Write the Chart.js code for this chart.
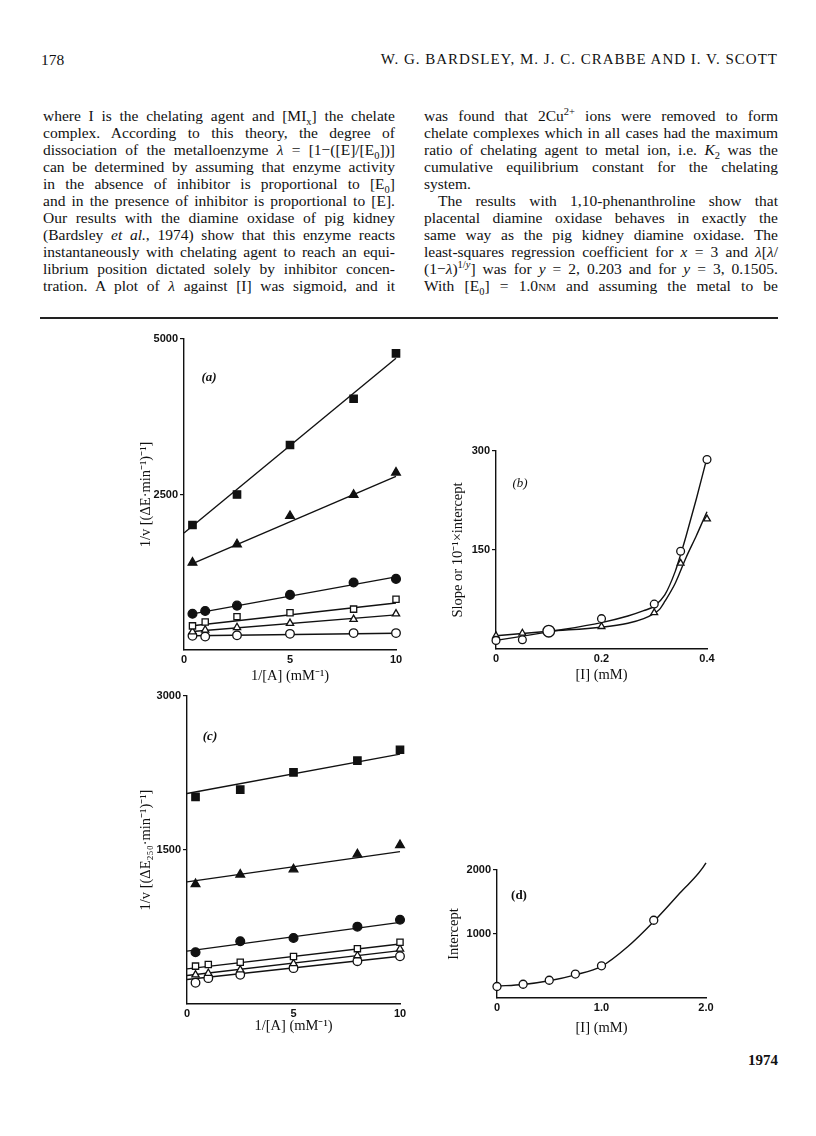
<!DOCTYPE html>
<html>
<head>
<meta charset="utf-8">
<script src="https://cdn.jsdelivr.net/npm/chart.js@4.4.0/dist/chart.umd.min.js"></script>
<style>
  body { margin: 0; width: 816px; height: 1136px; position: relative; overflow: hidden; background: #fff; color: #111; font-family: 'Liberation Serif', 'DejaVu Serif', serif; }
  .abs { position: absolute; }
  .col { position: absolute; top: 107px; font-size: 15.5px; line-height: 17px; word-spacing: -1.5px; }
  .ln { white-space: nowrap; text-align: justify; text-align-last: justify; height: 17px; }
  .ll { white-space: nowrap; text-align: left; height: 17px; }
  .ind { padding-left: 14px; }
  sub, sup { font-size: 10.5px; line-height: 0; }
  .sc { font-variant: small-caps; }
  canvas { position: absolute; }
  .tag { position: absolute; font-size: 13px; font-style: italic; font-weight: bold; transform: translate(-50%, -50%); }
</style>
</head>
<body>

<div class="abs" style="left:41px;top:51px;font-size:15.5px;">178</div>
<div class="abs" style="right:38px;top:51px;font-size:15px;letter-spacing:1px;">W. G. BARDSLEY, M. J. C. CRABBE AND I. V. SCOTT</div>

<div class="col" style="left:43px;width:352px;">
  <div class="ln">where I is the chelating agent and [MI<sub>x</sub>] the chelate</div>
  <div class="ln">complex. According to this theory, the degree of</div>
  <div class="ln">dissociation of the metalloenzyme <i>λ</i> = [1−([E]/[E<sub>0</sub>])]</div>
  <div class="ln">can be determined by assuming that enzyme activity</div>
  <div class="ln">in the absence of inhibitor is proportional to [E<sub>0</sub>]</div>
  <div class="ln">and in the presence of inhibitor is proportional to [E].</div>
  <div class="ln">Our results with the diamine oxidase of pig kidney</div>
  <div class="ln">(Bardsley <i>et al.</i>, 1974) show that this enzyme reacts</div>
  <div class="ln">instantaneously with chelating agent to reach an equi-</div>
  <div class="ln">librium position dictated solely by inhibitor concen-</div>
  <div class="ln">tration. A plot of <i>λ</i> against [I] was sigmoid, and it</div>
</div>

<div class="col" style="left:424px;width:354px;">
  <div class="ln">was found that 2Cu<sup>2+</sup> ions were removed to form</div>
  <div class="ln">chelate complexes which in all cases had the maximum</div>
  <div class="ln">ratio of chelating agent to metal ion, i.e. <i>K</i><sub>2</sub> was the</div>
  <div class="ln">cumulative equilibrium constant for the chelating</div>
  <div class="ll">system.</div>
  <div class="ln ind">The results with 1,10-phenanthroline show that</div>
  <div class="ln">placental diamine oxidase behaves in exactly the</div>
  <div class="ln">same way as the pig kidney diamine oxidase. The</div>
  <div class="ln">least-squares regression coefficient for <i>x</i> = 3 and <i>λ</i>[<i>λ</i>/</div>
  <div class="ln">(1−<i>λ</i>)<sup>1/<i>y</i></sup>] was for <i>y</i> = 2, 0.203 and for <i>y</i> = 3, 0.1505.</div>
  <div class="ln">With [E<sub>0</sub>] = 1.0<span class="sc">nm</span> and assuming the metal to be</div>
</div>

<div class="abs" style="left:40px;top:317px;width:738px;height:2px;background:#222;"></div>

<canvas id="chartA" width="277" height="360" style="left:133px;top:329px;"></canvas>
<canvas id="chartB" width="274" height="247" style="left:445px;top:441px;"></canvas>
<canvas id="chartC" width="281" height="353" style="left:133px;top:686px;"></canvas>
<canvas id="chartD" width="279" height="185" style="left:441px;top:856px;"></canvas>

<div class="tag" style="left:209px;top:377px;">(a)</div>
<div class="tag" style="left:520px;top:483px;font-weight:normal;">(b)</div>
<div class="tag" style="left:210px;top:736px;">(c)</div>
<div class="tag" style="left:519px;top:895px;font-style:normal;">(d)</div>

<div class="abs" style="left:748px;top:1052px;font-size:15px;font-weight:bold;">1974</div>

<script>
// (a) 1/v against 1/[A], ΔE
const aX = [0.4, 1, 2.5, 5, 8, 10];
const aSqFilled = [2010, null, 2500, 3296, 4040, 4770];
const aTriFilled = [1404, null, 1700, 2155, 2495, 2852];
const aCircFilled = [582, 627, 714, 886, 1085, 1143];
const aSqOpen = [388, 450, 536, 598, 657, 815];
const aTriOpen = [294, 322, 362, 430, 493, 581];
const aCircOpen = [228, 216, 236, 260, 272, 272];
// fitted lines, same series order
const aFitX0 = [0, 0.4, 0.4, 0.4, 0.4, 0.4];
const aFitX1 = [10, 10, 10, 10, 10, 10];
const aFitY0 = [1880, 1390, 580, 390, 298, 228];
const aFitY1 = [4690, 2790, 1176, 755, 565, 270];
const aXTicks = [0, 5, 10];
const aYTicks = [2500, 5000];

// (b) slope or 10^-1 x intercept against [I]
const bX = [0, 0.05, 0.1, 0.2, 0.3, 0.35, 0.4];
const bCirc = [13, 14, 27, 46, 68, 148, 287];
const bTri = [20, 24, 28, 34, 55, 130, 197];
const bCircCurveX = [0, 0.1, 0.2, 0.25, 0.28, 0.3, 0.32, 0.34, 0.35, 0.36, 0.38, 0.4, 0.405];
const bCircCurveY = [13, 26, 40, 50, 58, 65, 82, 118, 143, 170, 228, 290, 305];
const bTriCurveX = [0, 0.1, 0.2, 0.25, 0.28, 0.3, 0.31, 0.32, 0.34, 0.36, 0.38, 0.4, 0.41];
const bTriCurveY = [20, 27, 33, 39, 46, 54, 60, 72, 100, 138, 172, 208, 224];
const bXTicks = [0, 0.2, 0.4];
const bXLabels = ['0', '0.2', '0.4'];
const bYTicks = [150, 300];

// (c) 1/v against 1/[A], ΔE250
const cX = [0.4, 1, 2.5, 5, 8, 10];
const cSqFilled = [2017, null, 2088, 2256, 2370, 2476];
const cTriFilled = [1168, null, 1261, 1312, 1458, 1548];
const cCircFilled = [504, null, 611, 643, 753, 821];
const cSqOpen = [369, 384, 407, 462, 539, 601];
const cTriOpen = [284, 300, 333, 394, 471, 536];
const cCircOpen = [207, 252, 284, 349, 417, 465];
const cFitX0 = [0, 0, 0, 0, 0, 0];
const cFitX1 = [10, 10, 10, 10, 10, 10];
const cFitY0 = [2050, 1189, 515, 342, 277, 239];
const cFitY1 = [2434, 1484, 795, 585, 520, 465];
const cXTicks = [0, 5, 10];
const cYTicks = [1500, 3000];

// (d) intercept against [I]
const dX = [0, 0.25, 0.5, 0.75, 1.0, 1.5, 2.0];
const dY = [180, 215, 277, 374, 503, 1215, 2087];
const dCurveX = [0, 0.25, 0.5, 0.75, 1.0, 1.25, 1.5, 1.75, 2.0, 2.03];
const dCurveY = [185, 212, 270, 362, 495, 800, 1195, 1640, 2110, 2215];
const dXTicks = [0, 1, 2];
const dXLabels = ['0', '1.0', '2.0'];
const dYTicks = [1000, 2000];

const ink = '#111';
const tickFont = { family: "'Liberation Sans', Arial, sans-serif", size: 11, weight: 'bold' };
const titleFont = { family: "'Liberation Serif', serif", size: 14.5 };

function pts(xs, ys) {
  return xs.map((x, i) => ({ x: x, y: ys[i] })).filter(p => p.y !== null);
}

function marker(xs, ys, style, filled, r) {
  return {
    data: pts(xs, ys),
    pointStyle: style,
    pointRadius: r,
    pointBackgroundColor: filled ? ink : '#fff',
    pointBorderColor: ink,
    pointBorderWidth: 1.3,
    showLine: false,
    clip: false,
    order: 1
  };
}

function line(xs, ys, curved) {
  return {
    data: pts(xs, ys),
    showLine: true,
    pointRadius: 0,
    borderColor: ink,
    borderWidth: 1.4,
    cubicInterpolationMode: curved ? 'monotone' : 'default',
    clip: false,
    order: 2
  };
}

function fits(x0, x1, y0, y1) {
  return x0.map((x, i) => line([x, x1[i]], [y0[i], y1[i]], false));
}

function panel(id, cfg) {
  new Chart(document.getElementById(id), {
    type: 'scatter',
    data: { datasets: cfg.datasets },
    options: {
      responsive: false,
      animation: false,
      events: [],
      layout: { padding: { left: 0, right: cfg.padR, top: cfg.padT, bottom: 0 } },
      plugins: { legend: { display: false }, tooltip: { enabled: false } },
      scales: {
        x: {
          type: 'linear', min: cfg.xMin, max: cfg.xMax,
          afterBuildTicks: s => { s.ticks = cfg.xTicks.map(v => ({ value: v })); },
          afterFit: s => { s.height = cfg.xHeight; },
          ticks: {
            callback: (v, i) => cfg.xLabels ? cfg.xLabels[i] : String(v),
            font: tickFont, color: ink, padding: 3, maxRotation: 0, autoSkip: false
          },
          grid: { drawOnChartArea: false, drawTicks: false },
          border: { color: ink, width: 1.4 },
          title: { display: true, text: cfg.xTitle, font: titleFont, color: ink }
        },
        y: {
          type: 'linear', min: 0, max: cfg.yMax,
          afterBuildTicks: s => { s.ticks = cfg.yTicks.map(v => ({ value: v })); },
          afterFit: s => { s.width = cfg.yWidth; },
          ticks: { callback: v => String(v), font: tickFont, color: ink, padding: 2, autoSkip: false },
          grid: { drawOnChartArea: false, drawTicks: true, tickLength: 4, color: ink, lineWidth: 1.2 },
          border: { color: ink, width: 1.4 },
          title: { display: true, text: cfg.yTitle, font: titleFont, color: ink }
        }
      }
    }
  });
}

panel('chartA', {
  xMin: 0, xMax: 10, yMax: 5000, xTicks: aXTicks, yTicks: aYTicks,
  xTitle: '1/[A] (mM⁻¹)', yTitle: '1/v [(ΔE·min⁻¹)⁻¹]',
  yWidth: 51, xHeight: 39, padR: 14, padT: 10,
  datasets: [
    marker(aX, aSqFilled, 'rect', true, 5.2),
    marker(aX, aTriFilled, 'triangle', true, 5),
    marker(aX, aCircFilled, 'circle', true, 4.4),
    marker(aX, aSqOpen, 'rect', false, 4.4),
    marker(aX, aTriOpen, 'triangle', false, 4.2),
    marker(aX, aCircOpen, 'circle', false, 4.3)
  ].concat(fits(aFitX0, aFitX1, aFitY0, aFitY1))
});

panel('chartB', {
  xMin: 0, xMax: 0.4, yMax: 300, xTicks: bXTicks, xLabels: bXLabels, yTicks: bYTicks,
  xTitle: '[I] (mM)', yTitle: 'Slope or 10⁻¹×intercept',
  yWidth: 51, xHeight: 39, padR: 12, padT: 10,
  datasets: [
    marker(bX, bCirc, 'circle', false, [3.9, 3.9, 5.8, 3.9, 3.9, 3.9, 3.9]),
    marker(bX, bTri, 'triangle', false, 3.9),
    line(bCircCurveX, bCircCurveY, true),
    line(bTriCurveX, bTriCurveY, true)
  ]
});

panel('chartC', {
  xMin: 0, xMax: 10, yMax: 3000, xTicks: cXTicks, yTicks: cYTicks,
  xTitle: '1/[A] (mM⁻¹)', yTitle: '1/v [(ΔE₂₅₀·min⁻¹)⁻¹]',
  yWidth: 54, xHeight: 35, padR: 14, padT: 10,
  datasets: [
    marker(cX, cSqFilled, 'rect', true, 5.2),
    marker(cX, cTriFilled, 'triangle', true, 5),
    marker(cX, cCircFilled, 'circle', true, 4.4),
    marker(cX, cSqOpen, 'rect', false, 4.4),
    marker(cX, cTriOpen, 'triangle', false, 4.2),
    marker(cX, cCircOpen, 'circle', false, 4.3)
  ].concat(fits(cFitX0, cFitX1, cFitY0, cFitY1))
});

panel('chartD', {
  xMin: 0, xMax: 2, yMax: 2000, xTicks: dXTicks, xLabels: dXLabels, yTicks: dYTicks,
  xTitle: '[I] (mM)', yTitle: 'Intercept',
  yWidth: 56, xHeight: 43, padR: 14, padT: 14,
  datasets: [
    marker(dX, dY, 'circle', false, 4),
    line(dCurveX, dCurveY, true)
  ]
});
</script>
</body>
</html>
